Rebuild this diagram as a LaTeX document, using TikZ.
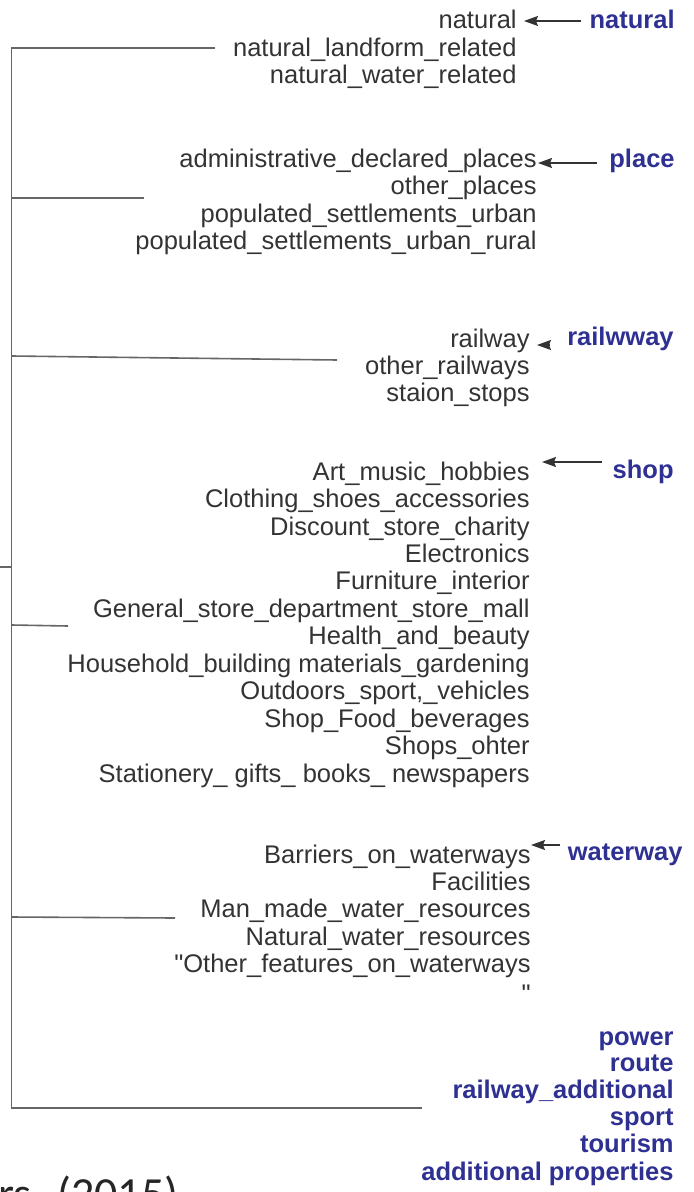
\documentclass[tikz,border=0pt]{standalone}
\usepackage{fontspec}
\setmainfont{Liberation Sans}
\newfontfamily\carlitofont{Carlito}
\newcommand\straightquote{\XeTeXglyph\XeTeXcharglyph"22\relax}
\usetikzlibrary{arrows.meta,calc}
\definecolor{txt}{HTML}{333333}
\definecolor{blu}{HTML}{2E3192}
\definecolor{ln}{HTML}{666666}
\begin{document}
\begin{tikzpicture}[x=0.5pt,y=-0.5pt,
 itemtxt/.style={anchor=base east, inner sep=0pt, text=txt, font=\fontsize{12.75}{15}\selectfont},
 cattxt/.style={anchor=base east, inner sep=0pt, text=blu, font=\fontsize{12.75}{15}\selectfont\bfseries},
 brline/.style={draw=ln, line width=0.8pt},
 arrline/.style={draw=txt, line width=0.7pt, -{Stealth[length=7pt,width=5pt,inset=1pt]}}]
\useasboundingbox (0,0) rectangle (693,1192);
\clip (0,0) rectangle (693,1192);

% bracket
\coordinate (btop) at (11.5,48);
\coordinate (bbot) at (11.5,1108);
\draw[brline] (215,48) -- (btop) -- (bbot) -- (422,1108);
\draw[brline] (11.5,198) -- (144,198);
\draw[brline] (11.5,356) -- (337,360);
\draw[brline] (0,567) -- (11.5,567);
\draw[brline] (11.5,625) -- (68,626);
\draw[brline] (11.5,917) -- (175,918);

% natural
\node[itemtxt] (n1) at (517,29) {natural};
\node[itemtxt] (n2) at (517,57) {natural\_landform\_related};
\node[itemtxt] (n3) at (517,84) {natural\_water\_related};
\node[cattxt] (bnat) at (675,29) {natural};

% place
\node[itemtxt] (p1) at (537,168) {administrative\_declared\_places};
\node[itemtxt] (p2) at (537,195) {other\_places};
\node[itemtxt] (p3) at (537,222.5) {populated\_settlements\_urban};
\node[itemtxt] (p4) at (537,250) {populated\_settlements\_urban\_rural};
\node[cattxt] (bplace) at (675,168) {place};

% railway
\node[itemtxt] (r1) at (530,347) {railway};
\node[itemtxt] (r2) at (530,374) {other\_railways};
\node[itemtxt] (r3) at (530,401) {staion\_stops};
\node[cattxt] (brail) at (674,345) {railwway};

% shop
\node[itemtxt] (s1) at (530,480) {Art\_music\_hobbies};
\node[itemtxt] (s2) at (530,507.5) {Clothing\_shoes\_accessories};
\node[itemtxt] (s3) at (530,535) {Discount\_store\_charity};
\node[itemtxt] (s4) at (530,562.4) {Electronics};
\node[itemtxt] (s5) at (530,589.8) {Furniture\_interior};
\node[itemtxt] (s6) at (530,617.3) {General\_store\_department\_store\_mall};
\node[itemtxt] (s7) at (530,644.7) {Health\_and\_beauty};
\node[itemtxt] (s8) at (530,672.2) {Household\_building materials\_gardening};
\node[itemtxt] (s9) at (530,699.6) {Outdoors\_sport,\_vehicles};
\node[itemtxt] (s10) at (530,727.1) {Shop\_Food\_beverages};
\node[itemtxt] (s11) at (530,754.5) {Shops\_ohter};
\node[itemtxt] (s12) at (530,782) {Stationery\_ gifts\_ books\_ newspapers};
\node[cattxt] (bshop) at (674,478) {shop};

% waterway
\node[itemtxt] (w1) at (531,863) {Barriers\_on\_waterways};
\node[itemtxt] (w2) at (531,890.4) {Facilities};
\node[itemtxt] (w3) at (531,917.8) {Man\_made\_water\_resources};
\node[itemtxt] (w4) at (531,945.2) {Natural\_water\_resources};
\node[itemtxt] (w5) at (531,972.6) {\straightquote Other\_features\_on\_waterways};
\node[itemtxt] (w6) at (531,1002) {\straightquote};
\node[cattxt] (bwater) at (683,860) {waterway};

% additional categories
\node[cattxt] (c1) at (674,1045) {power};
\node[cattxt] (c2) at (674,1071) {route};
\node[cattxt] (c3) at (674,1098) {railway\_additional};
\node[cattxt] (c4) at (674,1125) {sport};
\node[cattxt] (c5) at (674,1152) {tourism};
\node[cattxt] (c6) at (674,1180) {additional properties};

% citation fragment
\node[anchor=base west, inner sep=0pt, text=black!85, font=\carlitofont\fontsize{23}{28}\selectfont] (cite) at (-2,1209) {rs. (2015)};

% arrows
\draw[arrline] ($(bnat.base west)+(-8,-8)$) -- ($(n1.base east)+(7,-8)$);
\draw[arrline] ($(bplace.base west)+(-12,-5)$) -- ($(p1.base east)+(1,-5)$);
\draw[arrline] ($(brail.base west)+(-17,0)$) -- ($(r1.base east)+(7,-2)$);
\draw[arrline] ($(bshop.base west)+(-10,-16)$) -- ($(s1.base east)+(12,-18)$);
\draw[arrline] ($(bwater.base west)+(-7,-15)$) -- ($(w1.base east)+(0,-18)$);
\end{tikzpicture}
\end{document}
